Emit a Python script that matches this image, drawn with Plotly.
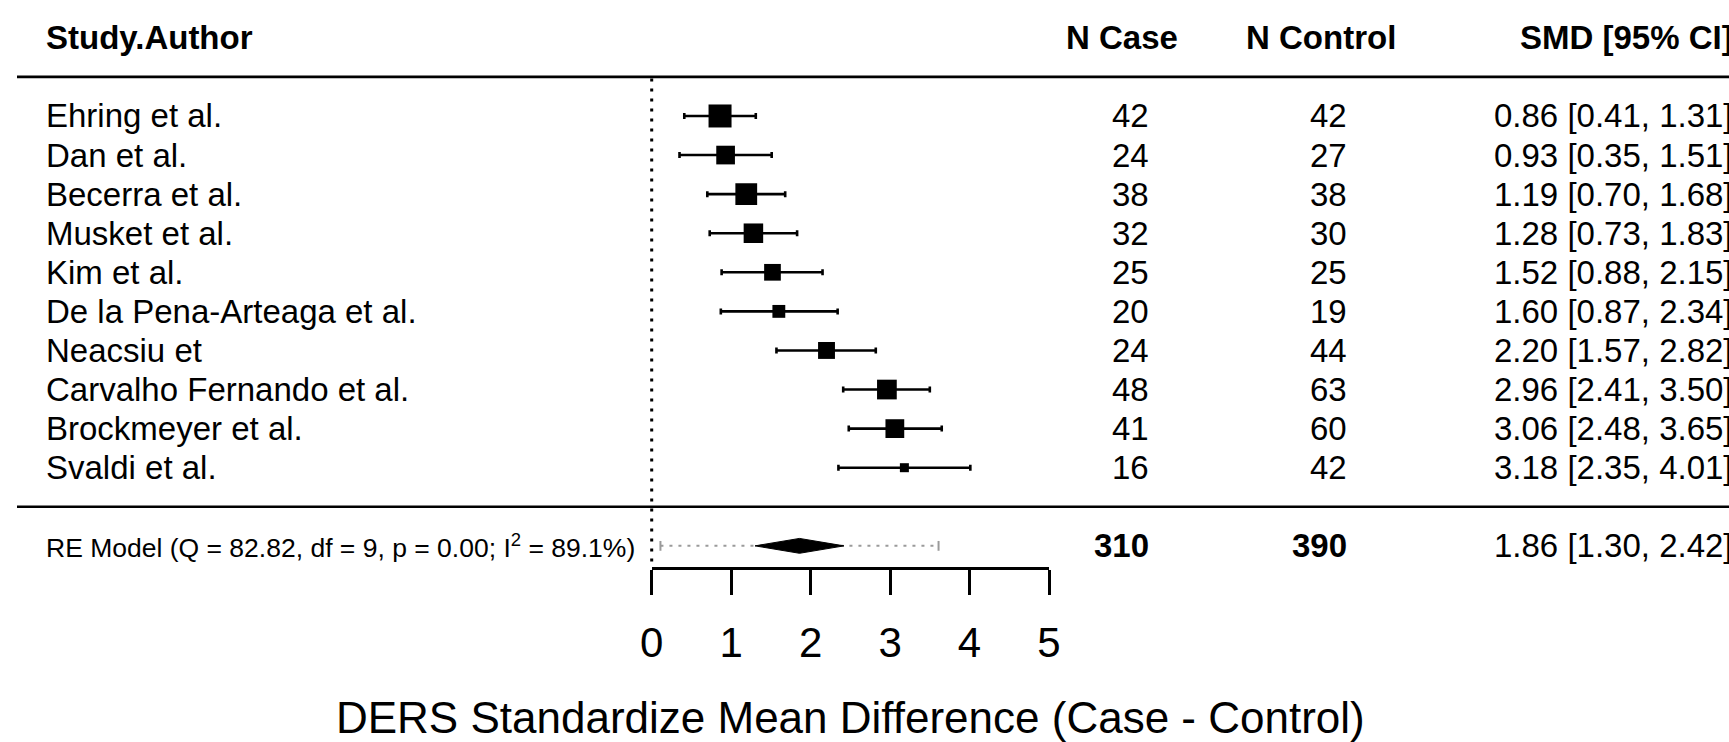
import plotly.graph_objects as go

# ---------------- data ----------------
studies = ["Ehring et al.", "Dan et al.", "Becerra et al.", "Musket et al.", "Kim et al.",
           "De la Pena-Arteaga et al.", "Neacsiu et", "Carvalho Fernando et al.",
           "Brockmeyer et al.", "Svaldi et al."]
n_case = [42, 24, 38, 32, 25, 20, 24, 48, 41, 16]
n_control = [42, 27, 38, 30, 25, 19, 44, 63, 60, 42]
smd = [0.86, 0.93, 1.19, 1.28, 1.52, 1.60, 2.20, 2.96, 3.06, 3.18]
ci_lower = [0.41, 0.35, 0.70, 0.73, 0.88, 0.87, 1.57, 2.41, 2.48, 2.35]
ci_upper = [1.31, 1.51, 1.68, 1.83, 2.15, 2.34, 2.82, 3.50, 3.65, 4.01]
weights = [10.57, 10.11, 10.44, 10.20, 9.90, 9.49, 9.92, 10.22, 10.12, 9.08]

re_label = "RE Model (Q = 82.82, df = 9, p = 0.00; I<sup>2</sup> = 89.1%)"
re_n_case = 310
re_n_control = 390
re_smd = 1.86
re_lower = 1.30
re_upper = 2.42
pi_lower = 0.11
pi_upper = 3.61

headers = ["Study.Author", "N Case", "N Control", "SMD [95% CI]"]
axis_ticks = [0, 1, 2, 3, 4, 5]
axis_title = "DERS Standardize Mean Difference (Case - Control)"

# ---------------- geometry / style ----------------
W, H = 1729, 742
X0_PX, PPU = 651.7, 79.46          # pixel of x=0, pixels per unit
ROW1_PX, ROW_PX = 467.7, 39.08     # pixel of row 1, pixels per row
FONT = "Liberation Sans, Arial, sans-serif"


def px2x(p):
    return (p - X0_PX) / PPU


x_range = [px2x(0), px2x(W)]
y_range = [1 - (H - ROW1_PX) / ROW_PX, 1 + ROW1_PX / ROW_PX]

k = len(studies)
rows = list(range(k, 0, -1))
re_row = -1
header_row = k + 2

wmin, wmax = min(weights), max(weights)
sizes = [9 + (w - wmin) / (wmax - wmin) * 14 for w in weights]

fig = go.Figure()

# study estimates with CIs
fig.add_trace(go.Scatter(
    x=smd, y=rows, mode="markers",
    marker=dict(symbol="square", size=sizes, color="black", opacity=1, line=dict(width=0)),
    error_x=dict(type="data", symmetric=False,
                 array=[u - e for u, e in zip(ci_upper, smd)],
                 arrayminus=[e - l for e, l in zip(smd, ci_lower)],
                 color="black", thickness=2.6, width=3),
    hoverinfo="skip", showlegend=False))

# prediction interval
fig.add_trace(go.Scatter(
    x=[pi_lower, pi_upper], y=[re_row, re_row], mode="lines",
    line=dict(color="#9a9a9a", width=2, dash="3px,6px"),
    hoverinfo="skip", showlegend=False))
fig.add_trace(go.Scatter(
    x=[pi_lower, pi_upper], y=[re_row, re_row], mode="markers",
    marker=dict(symbol="line-ns", size=7, opacity=1, line=dict(color="#9a9a9a", width=2)),
    hoverinfo="skip", showlegend=False))

# summary diamond
h = 0.19
fig.add_trace(go.Scatter(
    x=[re_lower, re_smd, re_upper, re_smd, re_lower],
    y=[re_row, re_row + h, re_row, re_row - h, re_row],
    mode="lines", fill="toself", fillcolor="black",
    line=dict(color="black", width=1),
    hoverinfo="skip", showlegend=False))

# invisible trace so that the visible bottom axis (xaxis2) is drawn
fig.add_trace(go.Scatter(
    x=axis_ticks, y=[re_row] * len(axis_ticks), xaxis="x2", yaxis="y",
    mode="markers", marker=dict(opacity=0), hoverinfo="skip", showlegend=False))

# ---------------- text ----------------
ann = []
name_x = px2x(43.5)
ncase_x = px2x(1151)
nctrl_x = px2x(1349)
smd_xp = 1735 / W   # paper coordinate (right edge is cut off as in the reference)
SZ = 33


def txt(x, y, s, anchor, size=SZ, bold=False, xref="x"):
    ann.append(dict(x=x, y=y, xref=xref, yref="y", text=(f"<b>{s}</b>" if bold else s),
                    showarrow=False, xanchor=anchor, yanchor="middle",
                    font=dict(family=FONT, size=size, color="black")))


txt(name_x, header_row, headers[0], "left", bold=True)
txt(px2x(1122), header_row, headers[1], "center", bold=True)
txt(px2x(1320.5), header_row, headers[2], "center", bold=True)
txt(smd_xp, header_row, headers[3], "right", bold=True, xref="paper")

for r, s, nc, nk, e, lo, up in zip(rows, studies, n_case, n_control, smd, ci_lower, ci_upper):
    txt(name_x, r, s, "left")
    txt(ncase_x, r, str(nc), "right")
    txt(nctrl_x, r, str(nk), "right")
    txt(smd_xp, r, f"{e:.2f} [{lo:.2f}, {up:.2f}]", "right", xref="paper")

txt(name_x, re_row, re_label, "left", size=26.5)
txt(ncase_x, re_row, str(re_n_case), "right", bold=True)
txt(nctrl_x, re_row, str(re_n_control), "right", bold=True)
txt(smd_xp, re_row, f"{re_smd:.2f} [{re_lower:.2f}, {re_upper:.2f}]", "right", xref="paper")

# ---------------- lines ----------------
shapes = [
    dict(type="line", xref="paper", yref="y", x0=17 / W, x1=1, y0=k + 1, y1=k + 1,
         line=dict(color="black", width=2.6)),
    dict(type="line", xref="paper", yref="y", x0=17 / W, x1=1, y0=0, y1=0,
         line=dict(color="black", width=2.6)),
    dict(type="line", xref="x", yref="y", x0=0, x1=0, y0=re_row - 0.4, y1=k + 1,
         line=dict(color="black", width=3, dash="3px,7px")),
]

axis_line_px = 567.7
fig.update_layout(
    width=W, height=H,
    margin=dict(l=0, r=0, t=0, b=0, pad=0, autoexpand=False),
    paper_bgcolor="white", plot_bgcolor="rgba(0,0,0,0)",
    showlegend=False, hovermode=False,
    xaxis=dict(range=x_range, visible=False, fixedrange=True, automargin=False),
    yaxis=dict(range=y_range, visible=False, fixedrange=True, automargin=False),
    xaxis2=dict(domain=[X0_PX / W, (X0_PX + 5 * PPU) / W], range=[0, 5],
                anchor="free", position=1 - axis_line_px / H, side="bottom",
                automargin=False,
                showline=True, linecolor="black", linewidth=2.6,
                ticks="outside", ticklen=25, tickwidth=2.6, tickcolor="black",
                tickvals=axis_ticks, ticktext=[str(t) for t in axis_ticks],
                tickfont=dict(family=FONT, size=42, color="black"),
                ticklabelstandoff=12,
                showgrid=False, zeroline=False, fixedrange=True,
                title=dict(text=axis_title, standoff=41,
                           font=dict(family=FONT, size=44, color="black"))),
    annotations=ann, shapes=shapes,
)

fig.write_html("out.html", config={"displayModeBar": False},
               post_script="document.body.style.margin='0';document.body.style.overflow='hidden';")
